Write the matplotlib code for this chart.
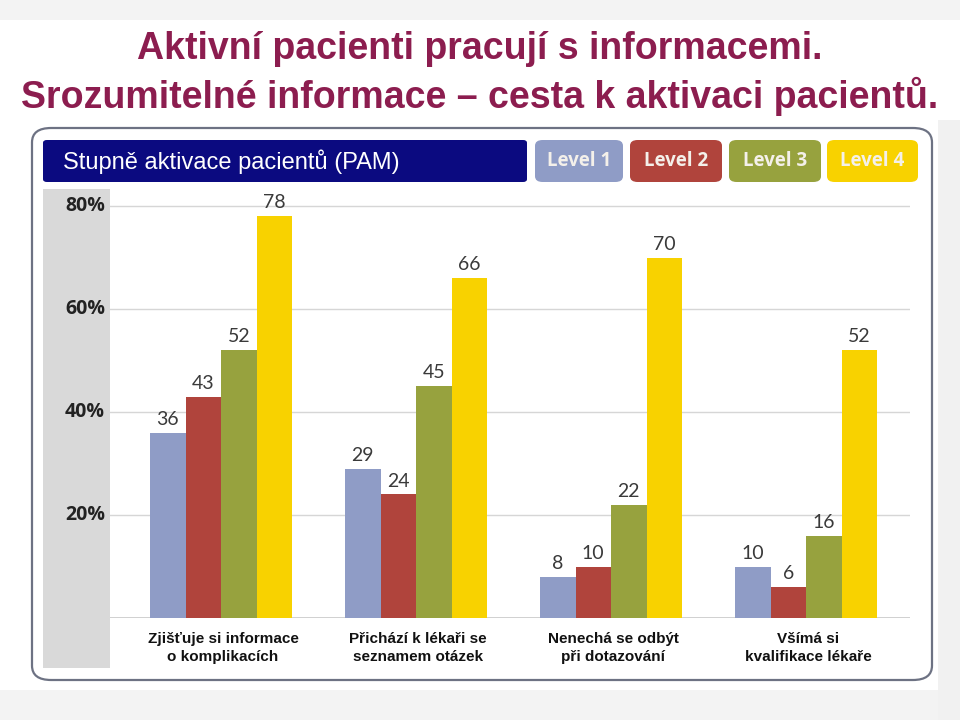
import matplotlib
matplotlib.use("Agg")
import matplotlib.pyplot as plt
from matplotlib.patches import FancyBboxPatch, Rectangle
import numpy as np

title_lines = ["Aktivní pacienti pracují s informacemi.",
               "Srozumitelné informace – cesta k aktivaci pacientů."]
panel_title = "Stupně aktivace pacientů (PAM)"
categories = ["Zjišťuje si informace\no komplikacích",
              "Přichází k lékaři se\nseznamem otázek",
              "Nenechá se odbýt\npři dotazování",
              "Všímá si\nkvalifikace lékaře"]
levels = ["Level 1", "Level 2", "Level 3", "Level 4"]
level1 = [36, 29, 8, 10]
level2 = [43, 24, 10, 6]
level3 = [52, 45, 22, 16]
level4 = [78, 66, 70, 52]
yticks = [20, 40, 60, 80]
ytick_labels = ["20%", "40%", "60%", "80%"]

colors = ["#8f9cc6", "#b0443c", "#97a23e", "#f8d200"]
title_color = "#8c1d4f"
navy = "#0b0a80"

W, H = 960, 720
fig = plt.figure(figsize=(9.6, 7.2), dpi=100)
fig.patch.set_facecolor("white")

def fx(x): return x / W
def fy(y): return 1 - y / H

# background bands
fig.patches.append(Rectangle((0, fy(20)), 1, 20 / H, transform=fig.transFigure,
                             facecolor="#f3f3f3", edgecolor="none", zorder=0))
fig.patches.append(Rectangle((0, 0), 1, fy(690), transform=fig.transFigure,
                             facecolor="#f3f3f3", edgecolor="none", zorder=0))
fig.patches.append(Rectangle((fx(938), 0), 1 - fx(938), fy(120), transform=fig.transFigure,
                             facecolor="#f1f1f1", edgecolor="none", zorder=0))

# titles
fig.text(0.5, fy(49), title_lines[0], ha="center", va="center", fontsize=27,
         fontweight="bold", color=title_color, family="Liberation Sans")
fig.text(0.5, fy(96), title_lines[1], ha="center", va="center", fontsize=27,
         fontweight="bold", color=title_color, family="Liberation Sans")

# panel
panel = FancyBboxPatch((fx(32), fy(680)), fx(932) - fx(32), fy(128) - fy(680),
                       boxstyle="round,pad=0,rounding_size=0.02",
                       transform=fig.transFigure, facecolor="white",
                       edgecolor="#6d7283", linewidth=1.6, zorder=1)
fig.patches.append(panel)

# header bar
fig.patches.append(FancyBboxPatch((fx(43), fy(182)), fx(527) - fx(43), fy(140) - fy(182),
                                  boxstyle="round,pad=0,rounding_size=0.004",
                                  transform=fig.transFigure, facecolor=navy,
                                  edgecolor="none", zorder=2))
fig.text(fx(63), fy(162), panel_title, ha="left", va="center", fontsize=17,
         color="white", family="Liberation Sans", zorder=3)

# legend tabs
tab_x = [(535, 623), (630, 722), (729, 821), (827, 918)]
for (x0, x1), c, lab in zip(tab_x, colors, levels):
    fig.patches.append(FancyBboxPatch((fx(x0), fy(182)), fx(x1) - fx(x0), fy(140) - fy(182),
                                      boxstyle="round,pad=0,rounding_size=0.008",
                                      transform=fig.transFigure, facecolor=c,
                                      edgecolor="none", zorder=2))
    fig.text(fx((x0 + x1) / 2), fy(161), lab, ha="center", va="center", fontsize=13.5,
             fontweight="bold", color="#f4f0ea", family="Open Sans", zorder=3)

# grey strip
fig.patches.append(Rectangle((fx(43), fy(668)), fx(110) - fx(43), fy(189) - fy(668),
                             transform=fig.transFigure, facecolor="#d9d9d9",
                             edgecolor="none", zorder=2))

# axes
ax = fig.add_axes([fx(110), fy(618), fx(910) - fx(110), fy(190) - fy(618)], zorder=3)
ax.patch.set_alpha(0)
spacing = 195.0
x0c = 221.0
ax.set_xlim(-(x0c - 110) / spacing, (910 - x0c) / spacing)
ax.set_ylim(0, (618 - 190) / 5.15)
for s in ax.spines.values():
    s.set_visible(False)
ax.set_xticks([])
ax.set_yticks([])
for t in yticks:
    ax.axhline(t, color="#d6d6d6", linewidth=1.0, zorder=0)
ax.axhline(0, color="#c8c8c8", linewidth=1.2, zorder=0)

bw = 35.5 / spacing
xs = np.arange(len(categories))
series = [level1, level2, level3, level4]
for i, (vals, c) in enumerate(zip(series, colors)):
    pos = xs + (i - 1.5) * bw
    ax.bar(pos, vals, width=bw, color=c, zorder=2, linewidth=0)
    for p, v in zip(pos, vals):
        ax.annotate(str(v), (p, v), xytext=(0, 3.5), textcoords="offset points",
                    ha="center", va="bottom", fontsize=14, color="#3a3a3a",
                    family="Lato", zorder=4)

for yt, lab in zip(yticks, ytick_labels):
    fig.text(fx(105), fy(618 - yt * 5.15), lab, ha="right", va="center",
             fontsize=14, fontweight="bold", color="#222222", family="Open Sans", zorder=4)

for x, lab in zip(xs, categories):
    fig.text(fx(x0c + x * spacing + 2), fy(648), lab, ha="center", va="center",
             fontsize=11, fontweight="bold", color="#111111", family="Liberation Sans",
             linespacing=1.45, zorder=4)

fig.savefig("out.png", dpi=100)
